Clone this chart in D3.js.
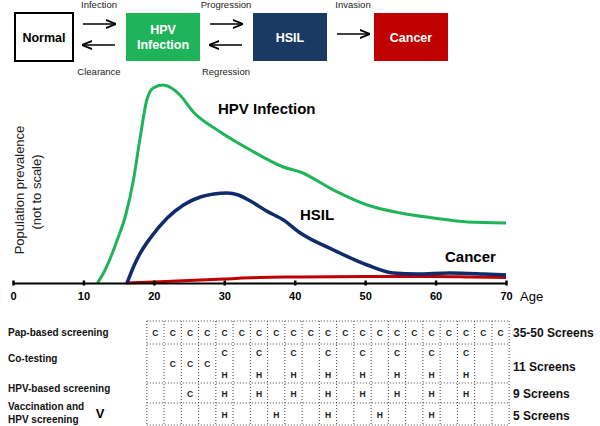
<!DOCTYPE html>
<html><head><meta charset="utf-8">
<script src="https://cdn.jsdelivr.net/npm/d3@7"></script>
<style>body{margin:0;background:#fff}svg{display:block;font-family:"Liberation Sans",Arial,sans-serif}</style>
</head><body>
<svg id="c" width="600" height="426"></svg>
<script>
// ---- data ----
const hpvAges = [12,13,14,14.8,16,17.1,18,19,19.9,21.3,22.5,23.7,25.6,29,33.7,38.4,40.8,45.5,50.3,55,59.7,64.5,70];
const hpvVals = [0,12,28,43,68,103,143,183,195,198,195,188,171,153,133,116,111,93,78,70,65,61,60];
const hsilAges = [16.2,17.1,18,19.5,21.9,24.2,26.6,28.5,30.4,32,33.7,36,38.4,40.8,45.5,50.3,54,57.4,62,66.8,70];
const hsilVals = [0,16,29,45,65,78,86,89,90,88,82,72,63,50,33,18,10,9,10,9,8];
const cancerAges = [16,20,25,30,35,40,50,60,65,70];
const cancerVals = [0,1,2.5,4,5.5,6,6.5,6.5,6,5.5];
const xTicks = [0,10,20,30,40,50,60,70];
const stages = ["Normal","HPV\nInfection","HSIL","Cancer"];
const transitions = [["Infection","Clearance"],["Progression","Regression"],["Invasion",""]];
const strategies = [["Pap-based screening"],["Co-testing"],["HPV-based screening"],["Vaccination and","HPV screening"]];
const screenCounts = ["35-50 Screens","11 Screens","9 Screens","5 Screens"];
const papRow  = ["C","C","C","C","C","C","C","C","C","C","C","C","C","C","C","C","C","C","C","C","C"];
const coRow   = ["","C","C","C","CH","","CH","","CH","","CH","","CH","","CH","","CH","","CH","",""];
const hpvRow  = ["","","C","","H","","H","","H","","H","","H","","H","","H","","H","",""];
const vacRow  = ["","","","","H","","","H","","","H","","","H","","","H","","","",""];

const svg = d3.select("#c");
const green="#1fb35a", navy="#0e2b6c", red="#c00000";

// ---- top diagram ----
const boxX = [15,126,253,374], boxW = 74, boxY=13, boxH=48;
const fills = ["#fff","#1fb35a","#1b3a63","#c00000"];
stages.forEach((s,i)=>{
  const w = i===0?58:boxW;
  svg.append("rect").attr("x",boxX[i]).attr("y",boxY).attr("width",w).attr("height",boxH)
    .attr("fill",fills[i]).attr("stroke",i===0?"#000":"none").attr("stroke-width",2);
  const lines = s.split("\n");
  const t = svg.append("text").attr("x",boxX[i]+w/2).attr("text-anchor","middle")
    .attr("font-weight","bold").attr("font-size",12.5).attr("fill",i===0?"#000":"#fff");
  lines.forEach((l,j)=>t.append("tspan").attr("x",boxX[i]+w/2)
    .attr("y",boxY+boxH/2+4.5+(j-(lines.length-1)/2)*15).text(l));
});
svg.append("defs").append("marker").attr("id","ah").attr("viewBox","0 0 10 10").attr("refX",9).attr("refY",5)
  .attr("markerWidth",7).attr("markerHeight",7).attr("orient","auto-start-reverse")
  .append("path").attr("d","M0,1 L10,5 L0,9").attr("fill","none").attr("stroke","#000").attr("stroke-width",1.6);
const gaps = [[83,115],[210,242],[337,369]];
transitions.forEach((tr,i)=>{
  const [a,b]=gaps[i], cx=(a+b)/2;
  if(tr[1]){
    svg.append("line").attr("x1",a).attr("x2",b).attr("y1",24).attr("y2",24).attr("stroke","#000").attr("stroke-width",1.5).attr("marker-end","url(#ah)");
    svg.append("line").attr("x1",b).attr("x2",a).attr("y1",45).attr("y2",45).attr("stroke","#000").attr("stroke-width",1.5).attr("marker-end","url(#ah)");
    svg.append("text").attr("x",cx).attr("y",75).attr("text-anchor","middle").attr("font-size",9.5).attr("fill","#222").text(tr[1]);
  } else {
    svg.append("line").attr("x1",a).attr("x2",b).attr("y1",34).attr("y2",34).attr("stroke","#000").attr("stroke-width",1.5).attr("marker-end","url(#ah)");
  }
  svg.append("text").attr("x",cx).attr("y",8).attr("text-anchor","middle").attr("font-size",9.5).attr("fill","#222").text(tr[0]);
});

// ---- chart ----
const x = d3.scaleLinear().domain([0,70]).range([13,506]);
const y = d3.scaleLinear().domain([0,200]).range([283,83]);
const line = d3.line().x(d=>x(d[0])).y(d=>y(d[1])).curve(d3.curveMonotoneX);
const series = [[cancerAges,cancerVals,red,3],[hsilAges,hsilVals,navy,3.5],[hpvAges,hpvVals,green,3]];
series.forEach(([a,v,c,w])=>{
  svg.append("path").datum(a.map((d,i)=>[d,v[i]])).attr("d",line)
    .attr("fill","none").attr("stroke",c).attr("stroke-width",w).attr("stroke-linejoin","round");
});
const ax = svg.append("g").attr("transform","translate(0,283)")
  .call(d3.axisBottom(x).tickValues(xTicks).tickSize(0).tickPadding(9).tickFormat(d3.format("d")));
ax.select(".domain").attr("stroke","#000").attr("stroke-width",2);
ax.selectAll(".tick").append("line").attr("y1",-2.5).attr("y2",2.5).attr("stroke","#000").attr("stroke-width",2.5);
ax.selectAll("text").attr("font-weight","bold").attr("font-size",11).attr("fill","#000").attr("font-family","Liberation Sans,Arial,sans-serif");
svg.append("text").attr("x",520).attr("y",301).attr("font-size",13).text("Age");

svg.append("text").attr("transform","translate(24,190) rotate(-90)").attr("text-anchor","middle").attr("font-size",13).attr("fill","#222").text("Population prevalence");
svg.append("text").attr("transform","translate(41,192) rotate(-90)").attr("text-anchor","middle").attr("font-size",13).attr("fill","#222").text("(not to scale)");

svg.append("text").attr("x",218).attr("y",114).attr("font-weight","bold").attr("font-size",15).text("HPV Infection");
svg.append("text").attr("x",300).attr("y",220).attr("font-weight","bold").attr("font-size",15).text("HSIL");
svg.append("text").attr("x",445).attr("y",262).attr("font-weight","bold").attr("font-size",15).text("Cancer");

// ---- screening grid ----
const colW = 2.45, gridStart = 19, nCols = papRow.length;
const colX = i => x(gridStart + i*colW);
const rowB = [321,344,383,403,425];
const rows = [papRow,coRow,hpvRow,vacRow];
const dot = {stroke:"#444","stroke-width":1,"stroke-dasharray":"1,2"};
function dl(x1,y1,x2,y2){const l=svg.append("line").attr("x1",x1).attr("y1",y1).attr("x2",x2).attr("y2",y2);Object.entries(dot).forEach(([k,v])=>l.attr(k,v));}
rowB.forEach(yy=>dl(colX(0),yy,colX(nCols),yy));
for(let i=0;i<=nCols;i++) dl(colX(i),rowB[0],colX(i),rowB[4]);
rows.forEach((r,ri)=>{
  const y0=rowB[ri], y1=rowB[ri+1];
  r.forEach((c,i)=>{
    const cx = colX(i)+ (colX(1)-colX(0))/2;
    const add=(t,yy)=>svg.append("text").attr("x",cx).attr("y",yy).attr("text-anchor","middle").attr("font-weight","bold").attr("font-size",8.5).attr("fill","#222").text(t);
    if(c==="CH"){ add("C",y0+12); add("H",y1-5); }
    else if(c) add(c,(y0+y1)/2+3.5);
  });
});
const labY = [[336],[362],[392],[410,423]];
strategies.forEach((s,i)=>s.forEach((l,j)=>svg.append("text").attr("x",8).attr("y",labY[i][j]).attr("font-weight","bold").attr("font-size",10).attr("fill","#111").text(l)));
svg.append("text").attr("x",100).attr("y",418).attr("text-anchor","middle").attr("font-weight","bold").attr("font-size",13).text("V");
const cntY=[337,371,398,420];
screenCounts.forEach((s,i)=>svg.append("text").attr("x",513).attr("y",cntY[i]).attr("font-weight","bold").attr("font-size",12).attr("fill","#111").text(s));
</script>
</body></html>
